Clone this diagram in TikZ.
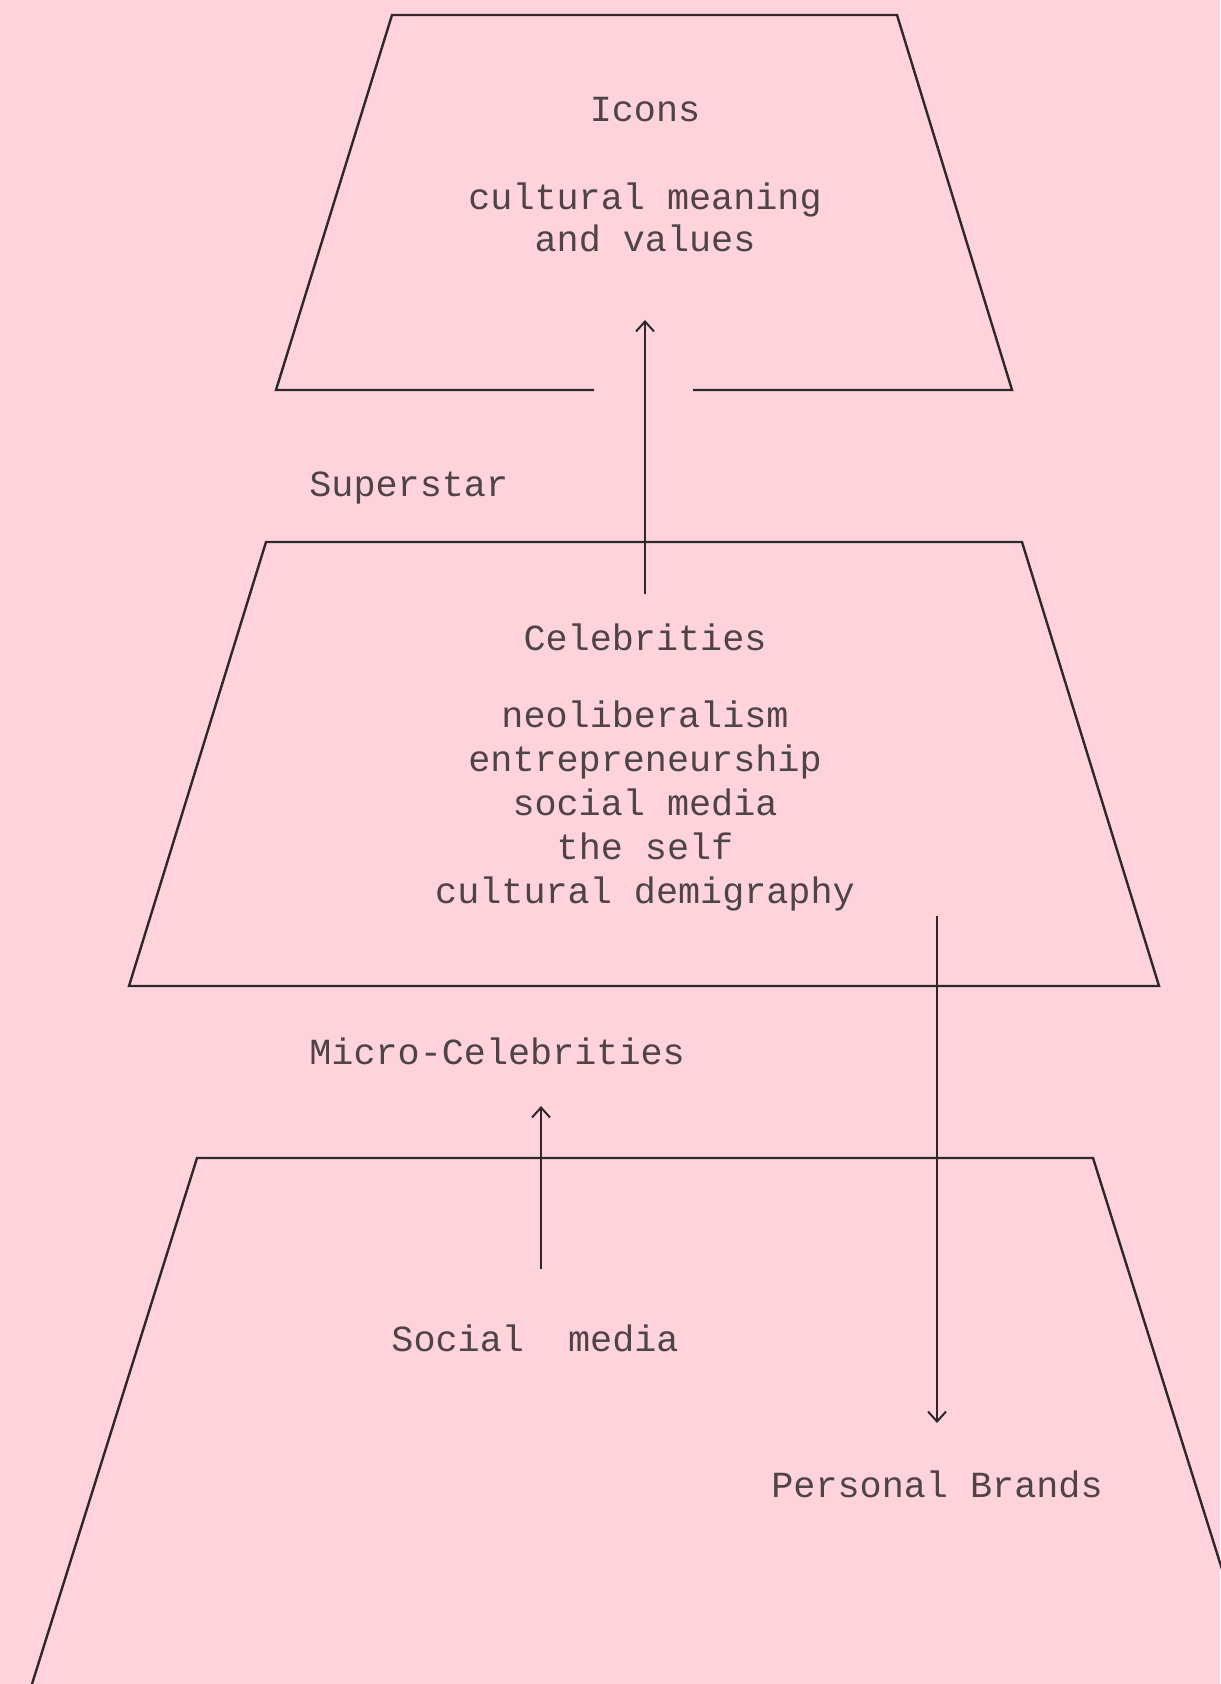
\documentclass[tikz,border=0pt]{standalone}
\usepackage{fontspec}
\setmonofont{Liberation Mono}
\usetikzlibrary{arrows.meta}
\definecolor{bgpink}{RGB}{255,211,220}
\definecolor{inkline}{RGB}{45,40,42}
\definecolor{inktext}{RGB}{78,68,70}
\tikzset{
  lvl/.style={draw=inkline, line width=1.2pt, line join=miter},
  lbl/.style={font=\ttfamily\fontsize{18.4}{22}\selectfont, text=inktext, inner sep=0pt, align=center},
  flow/.style={draw=inkline, line width=1pt, -{Straight Barb[length=5pt,width=9pt,line width=1pt]}}
}
\begin{document}
\begin{tikzpicture}[x=0.5pt,y=-0.5pt]
\fill[bgpink] (0,0) rectangle (1220,1684);
\useasboundingbox (0,0) rectangle (1220,1684);
% top level (icons)
\draw[lvl] (594,390) -- (276,390) -- (392,15) -- (897,15) -- (1012,390) -- (693,390);
% middle level (celebrities)
\draw[lvl] (266,542) -- (1022,542) -- (1159,986) -- (129,986) -- cycle;
% bottom level
\draw[lvl] (32,1684) -- (197,1158) -- (1093,1158) -- (1258,1684);
% texts
\node[lbl] (icons) at (645,110) {Icons};
\node[lbl, font=\ttfamily\fontsize{18.4}{21}\selectfont] (iconsval) at (645,217) {cultural meaning\\and values};
\node[lbl, anchor=west] (superstar) at (309,488) {Superstar};
\node[lbl] (celeb) at (645,637) {Celebrities};
\node[lbl, font=\ttfamily\fontsize{18.4}{22.1}\selectfont] (celebval) at (645,806) {neoliberalism\\entrepreneurship\\social media\\the self\\cultural demigraphy};
\node[lbl, anchor=west] (micro) at (309,1051) {Micro-Celebrities};
\node[lbl] (social) at (535,1338) {Social\ \ media};
\node[lbl] (brands) at (937,1484) {Personal Brands};
% arrows
\coordinate (a1s) at (645,594);
\coordinate (a1e) at (645,320);
\coordinate (a2s) at (937,916);
\coordinate (a2e) at (937,1423);
\coordinate (a3s) at (541,1269);
\coordinate (a3e) at (541,1106);
\draw[flow] (a1s) -- (a1e);
\draw[flow] (a2s) -- (a2e);
\draw[flow] (a3s) -- (a3e);
\end{tikzpicture}
\end{document}
